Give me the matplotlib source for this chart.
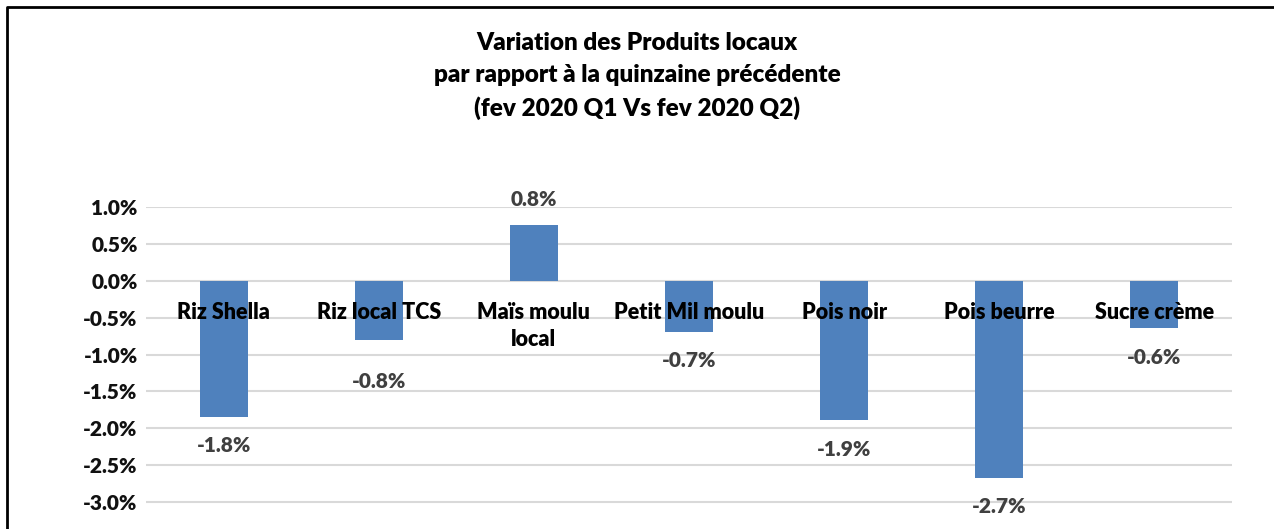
import matplotlib.pyplot as plt
from matplotlib.lines import Line2D

categories = ["Riz Shella", "Riz local TCS", "Maïs moulu\nlocal", "Petit Mil moulu",
              "Pois noir", "Pois beurre", "Sucre crème"]
values = [-1.84, -0.80, 0.75, -0.69, -1.89, -2.67, -0.64]
labels = ["-1.8%", "-0.8%", "0.8%", "-0.7%", "-1.9%", "-2.7%", "-0.6%"]
yticks = [1.0, 0.5, 0.0, -0.5, -1.0, -1.5, -2.0, -2.5, -3.0]

# data label distance from bar end (points); the second label sits lower in the original
label_offsets = [-21, -30, 19, -21, -21, -21, -21]

W, H = 1274, 529
plt.rcParams['font.family'] = ['Lato', 'DejaVu Sans']
WEIGHT = "heavy"

fig = plt.figure(figsize=(W / 100, H / 100), dpi=100)

# axes placed in pixel terms: x 146..1232, y top (1.0%) at 207, -3.5% at 539
ymin, ymax = -3.5, 1.0
top_px, bot_px = 207, 539
ax = fig.add_axes([146 / W, 1 - bot_px / H, (1232 - 146) / W, (bot_px - top_px) / H])

x = range(len(categories))
ax.bar(x, values, width=0.31, color="#4F81BD", zorder=3)
ax.set_xlim(-0.5, len(categories) - 0.5)
ax.set_ylim(ymin, ymax)

ax.set_yticks(yticks)
ax.set_yticklabels([f"{t:.1f}%" for t in yticks], fontsize=15, fontweight=WEIGHT, color="#111111")
ax.tick_params(axis="y", length=0, pad=6)
ax.set_xticks([])
ax.grid(axis="y", color="#D9D9D9", linewidth=1.5, zorder=0)
for s in ax.spines.values():
    s.set_visible(False)

# category labels just under the zero line
for i, c in enumerate(categories):
    ax.annotate(c, (i, 0), xytext=(0, -15.5), textcoords="offset points",
                ha="center", va="top", fontsize=15.5, fontweight=WEIGHT,
                color="black", zorder=4, linespacing=1.35)

# data labels
for i, (v, lab, off) in enumerate(zip(values, labels, label_offsets)):
    ax.annotate(lab, (i, v), xytext=(0, off), textcoords="offset points",
                ha="center", va="center", fontsize=15, fontweight=WEIGHT,
                color="#404040", zorder=4)

fig.text(0.5, 1 - 76 / H, "Variation des Produits locaux\npar rapport à la quinzaine précédente\n(fev 2020 Q1 Vs fev 2020 Q2)",
         ha="center", va="center", fontsize=17.5, fontweight=WEIGHT, linespacing=1.52)

# outer frame (left and top edges visible)
fig.add_artist(Line2D([7 / W, 7 / W, 1.0], [0.0, 1 - 7 / H, 1 - 7 / H],
                      transform=fig.transFigure, color="black", linewidth=2))

fig.savefig("out.png", dpi=100)
